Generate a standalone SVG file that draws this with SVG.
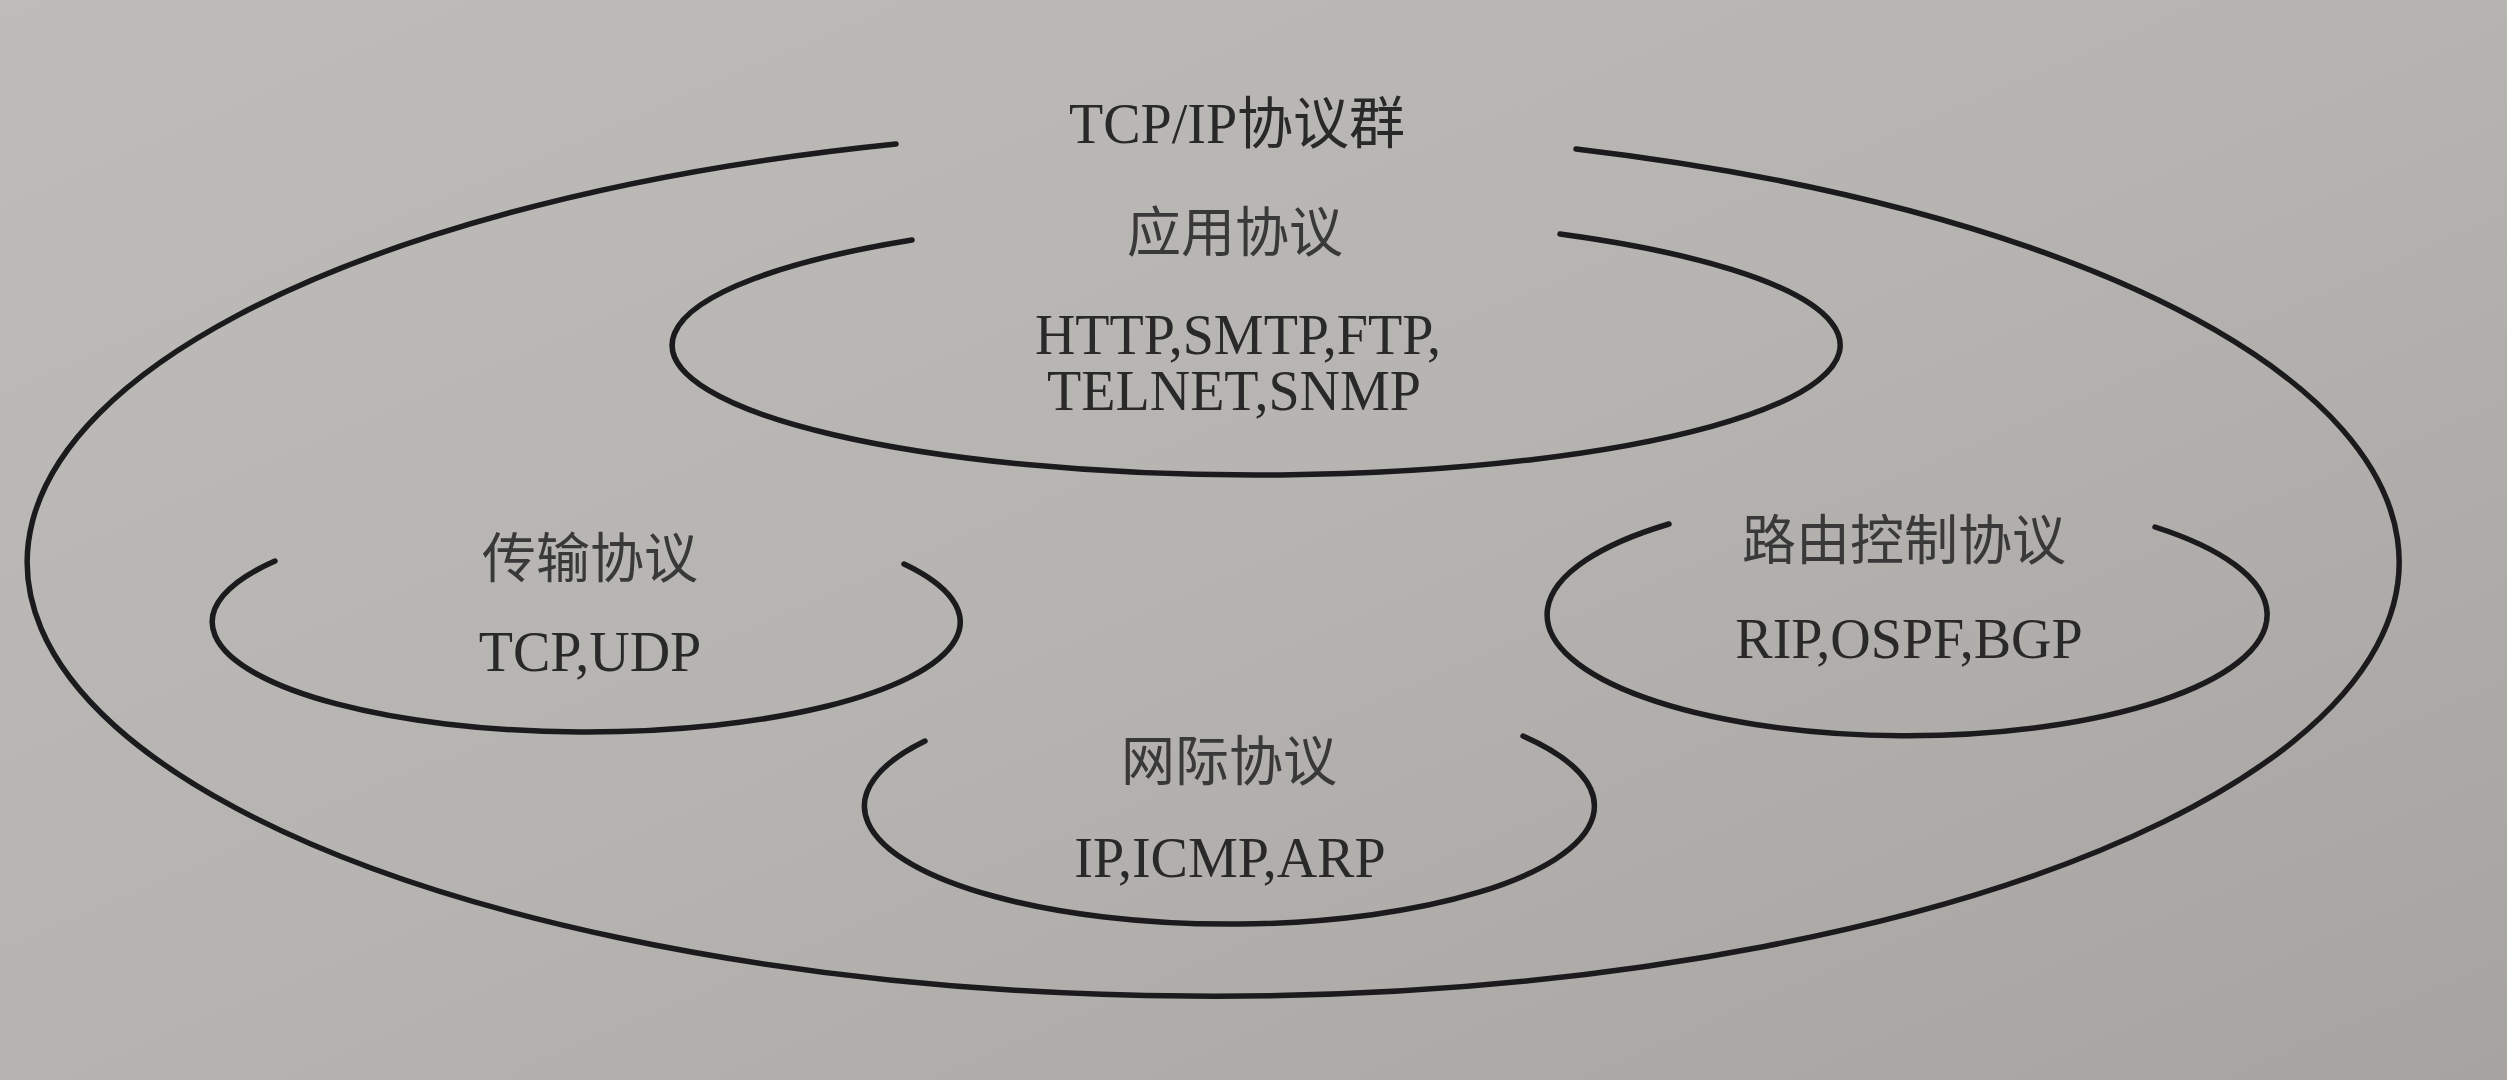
<svg xmlns="http://www.w3.org/2000/svg" width="2507" height="1080" viewBox="0 0 2507 1080">
<defs>
<linearGradient id="bg" x1="0" y1="0" x2="1" y2="1">
<stop offset="0" stop-color="#bebcb9"/>
<stop offset="0.5" stop-color="#b6b4b1"/>
<stop offset="1" stop-color="#a6a3a0"/>
</linearGradient>
<style>
.arc{fill:none;stroke:#1b1a1c;stroke-width:5.5;stroke-linecap:round}
.lat{font-family:"Liberation Serif","Noto Sans CJK SC",serif;font-size:56px;fill:#2a292a;text-anchor:middle}
.cjk{font-family:"Noto Sans CJK SC","Liberation Serif",sans-serif;font-size:54px;fill:#3a393a;text-anchor:middle}
</style>
</defs>
<rect x="0" y="0" width="2507" height="1080" fill="url(#bg)"/>
<g id="connectors">
</g>
<g id="tcpip-suite">
<path class="arc" d="M1576,149 A1186,434 0 1 1 896,144"/>
<text class="lat" x="1237" y="143">TCP/IP协议群</text>
</g>
<g id="application">
<path class="arc" d="M1560,234 A584,130 0 1 1 912,240"/>
<text class="cjk" x="1235" y="252">应用协议</text>
<text class="lat" x="1238" y="354">HTTP,SMTP,FTP,</text>
<text class="lat" x="1234" y="410">TELNET,SNMP</text>
</g>
<g id="transport">
<path class="arc" d="M904,564 A374,110 0 1 1 275,561"/>
<text class="cjk" x="590" y="578">传输协议</text>
<text class="lat" x="590" y="671">TCP,UDP</text>
</g>
<g id="routing">
<path class="arc" d="M2155,527 A360,121 0 1 1 1669,524"/>
<text class="cjk" x="1904" y="560">路由控制协议</text>
<text class="lat" x="1909" y="658">RIP,OSPF,BGP</text>
</g>
<g id="internet">
<path class="arc" d="M1523,736 A365,118 0 1 1 925,741"/>
<text class="cjk" x="1229" y="781">网际协议</text>
<text class="lat" x="1230" y="877">IP,ICMP,ARP</text>
</g>
</svg>
